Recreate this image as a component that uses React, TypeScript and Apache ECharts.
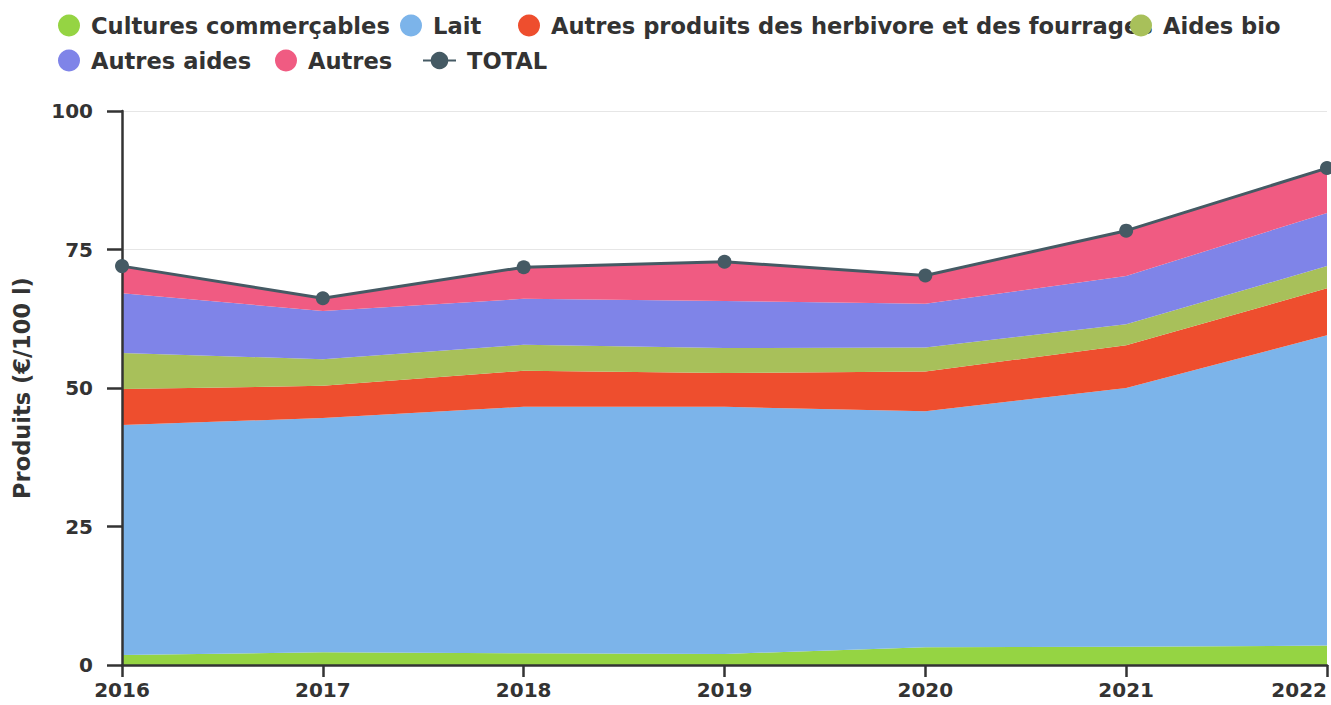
import React, { useEffect, useRef } from "react";
import * as echarts from "echarts";

const years = ["2016", "2017", "2018", "2019", "2020", "2021", "2022"];
const cultures = [1.8, 2.3, 2.1, 2.0, 3.2, 3.3, 3.5];
const lait = [41.5, 42.3, 44.5, 44.6, 42.6, 46.7, 56.0];
const autresProduits = [6.5, 5.8, 6.5, 6.1, 7.2, 7.7, 8.5];
const aidesBio = [6.5, 4.8, 4.7, 4.5, 4.3, 3.8, 4.0];
const autresAides = [10.8, 8.7, 8.3, 8.5, 7.9, 8.7, 9.6];
const autres = [4.9, 2.3, 5.7, 7.1, 5.1, 8.2, 8.1];
const total = [72.0, 66.2, 71.8, 72.8, 70.3, 78.4, 89.7];
const yTicks = [0, 25, 50, 75, 100];

const FONT = "DejaVu Sans";

export default function App() {
  const ref = useRef<HTMLDivElement>(null);
  useEffect(() => {
    if (!ref.current) return;
    const chart = echarts.init(ref.current, undefined, { renderer: "svg" });
    const areas = [
      { name: "Cultures commerçables", data: cultures, color: "#95d443" },
      { name: "Lait", data: lait, color: "#7cb4ea" },
      { name: "Autres produits des herbivore et des fourrages", data: autresProduits, color: "#ee4e2e" },
      { name: "Aides bio", data: aidesBio, color: "#a8c05a" },
      { name: "Autres aides", data: autresAides, color: "#7f84e8" },
      { name: "Autres", data: autres, color: "#f05b82" },
    ];
    const legendBase = {
      orient: "horizontal",
      padding: 0,
      itemWidth: 22,
      itemHeight: 22,
      textStyle: { fontFamily: FONT, fontWeight: "bold", fontSize: 22.6, color: "#333", padding: [0, 0, 0, 6] },
    };
    const legendPos: [string, number, number][] = [
      ["Cultures commerçables", 58, 14],
      ["Lait", 400, 14],
      ["Autres produits des herbivore et des fourrages", 518, 14],
      ["Aides bio", 1130, 14],
      ["Autres aides", 58, 49],
      ["Autres", 275, 49],
      ["TOTAL", 422, 49],
    ];
    const legends = legendPos.map(([n, l, t]) => ({
      ...legendBase,
      data: [n === "TOTAL" ? { name: n } : { name: n, icon: "circle" }],
      left: l,
      top: t,
      itemWidth: n === "TOTAL" ? 33 : 22,
    }));
    chart.setOption({
      animation: false,
      legend: legends,
      grid: { left: 122, right: 4, top: 111, bottom: 40, containLabel: false },
      xAxis: {
        type: "category",
        data: years,
        boundaryGap: false,
        z: 3,
        axisLine: { lineStyle: { color: "#333", width: 2.5 } },
        axisTick: { length: 12, lineStyle: { color: "#333", width: 2.5 } },
        axisLabel: {
          fontFamily: FONT,
          fontWeight: "bold",
          fontSize: 20,
          color: "#333",
          margin: 15,
          alignMaxLabel: "right",
        },
      },
      yAxis: {
        type: "value",
        min: yTicks[0],
        max: yTicks[yTicks.length - 1],
        interval: 25,
        z: 3,
        name: "Produits (€/100 l)",
        nameLocation: "middle",
        nameGap: 89,
        nameTextStyle: { fontFamily: FONT, fontWeight: "bold", fontSize: 22.5, color: "#333" },
        axisLine: { show: true, lineStyle: { color: "#333", width: 2.5 } },
        axisTick: { show: true, length: 15, lineStyle: { color: "#333", width: 2.5 } },
        axisLabel: { fontFamily: FONT, fontWeight: "bold", fontSize: 20, color: "#333", margin: 29 },
        splitLine: { show: true, lineStyle: { color: "#e6e6e6", width: 1 } },
      },
      series: [
        ...areas.map((a) => ({
          name: a.name,
          type: "line",
          stack: "total",
          data: a.data,
          showSymbol: false,
          symbol: "circle",
          lineStyle: { width: 0 },
          itemStyle: { color: a.color },
          areaStyle: { color: a.color, opacity: 1 },
        })),
        {
          name: "TOTAL",
          type: "line",
          data: total,
          symbol: "circle",
          symbolSize: 14,
          lineStyle: { color: "#455a64", width: 3 },
          itemStyle: { color: "#455a64" },
          z: 5,
        },
      ],
    });
    return () => chart.dispose();
  }, []);
  return (
    <div
      ref={ref}
      style={{ position: "fixed", left: 0, top: 0, width: 1331, height: 705, background: "#fff" }}
    />
  );
}
